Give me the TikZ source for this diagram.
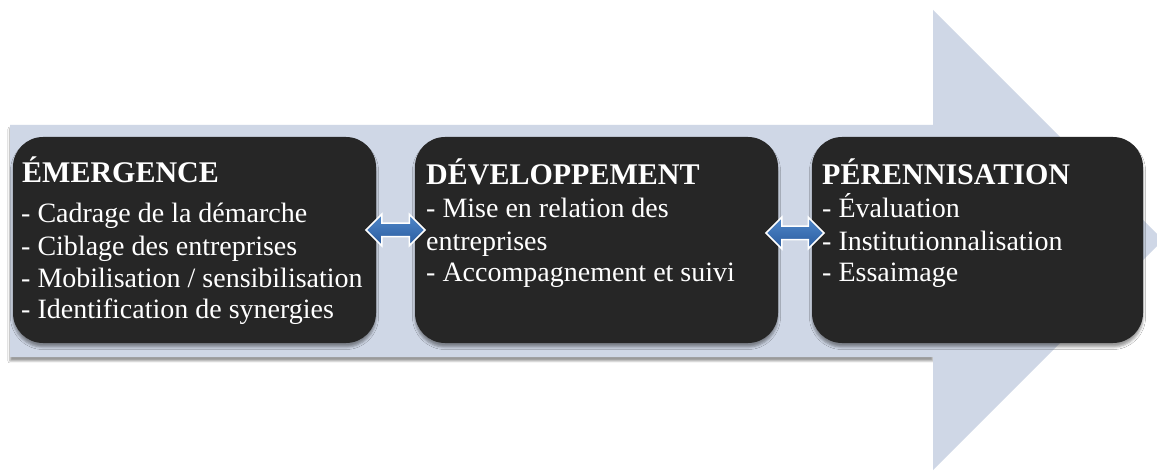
\documentclass[tikz,border=0pt]{standalone}
\usepackage{fontspec}
\setmainfont{Liberation Serif}
\usetikzlibrary{shapes.arrows,shadows.blur,calc}
\definecolor{arrowbg}{HTML}{CFD7E6}
\definecolor{boxfill}{HTML}{262626}
\definecolor{dblTop}{HTML}{5088CA}
\definecolor{dblBot}{HTML}{2A5B9E}
\tikzset{
  x=1pt,y=1pt,
  stage/.style={draw=none, fill=boxfill, rounded corners=30pt, inner sep=0pt,
    blur shadow={shadow xshift=0pt, shadow yshift=-4pt, shadow blur radius=2.5pt, shadow opacity=40}},
  ttl/.style={anchor=base west, inner sep=0pt, text=white, font=\fontsize{30}{34}\selectfont\bfseries},
  itm/.style={anchor=base west, inner sep=0pt, text=white, font=\fontsize{28}{32}\selectfont},
  dbl/.style={shape=double arrow, double arrow head extend=9pt, minimum width=30pt,
    minimum height=59pt, inner sep=6pt, top color=dblTop, bottom color=dblBot,
    draw=white, line width=1.5pt}
}
\begin{document}
\begin{tikzpicture}
\clip (0,0) rectangle (1157,472);
% big background arrow: shaft shadow then arrow
\fill[white] (0,0) rectangle (1157,472);
\path[fill=arrowbg, blur shadow={shadow xshift=0pt, shadow yshift=-4pt, shadow blur radius=2pt, shadow opacity=40}]
  (10,115) rectangle (933,347);
\fill[arrowbg] (10,347) -- (933,347) -- (933,462) -- (1163,232) -- (933,2) -- (933,115) -- (10,115) -- cycle;
% stage boxes
\node[stage, minimum width=363pt, minimum height=206pt] (b1) at (194.5,232) {};
\node[stage, minimum width=363pt, minimum height=206pt] (b2) at (596.5,232) {};
\node[stage, minimum width=331pt, minimum height=206pt] (b3) at (977.5,232) {};
% texts box 1
\node[ttl] (t1) at (22,289) {ÉMERGENCE};
\node[itm] (t1a) at (21,249) {- Cadrage de la démarche};
\node[itm] (t1b) at (21,217) {- Ciblage des entreprises};
\node[itm] (t1c) at (21,185) {- Mobilisation / sensibilisation};
\node[itm] (t1d) at (21,154) {- Identification de synergies};
% texts box 2
\node[ttl] (t2) at (426,287) {DÉVELOPPEMENT};
\node[itm] (t2a) at (426,254) {- Mise en relation des};
\node[itm] (t2b) at (426,222) {entreprises};
\node[itm] (t2c) at (426,190) {- Accompagnement et suivi};
% texts box 3
\node[ttl] (t3) at (822,287) {PÉRENNISATION};
\node[itm] (t3a) at (822,254) {- Évaluation};
\node[itm] (t3b) at (822,222) {- Institutionnalisation};
\node[itm] (t3c) at (822,190) {- Essaimage};
% connectors between stages
\node[dbl] (a1) at ($(b1.east)!0.5!(b2.west)+(0,10)$) {};
\node[dbl, minimum height=58pt] (a2) at ($(b2.east)!0.5!(b3.west)+(0,7)$) {};
\end{tikzpicture}
\end{document}
